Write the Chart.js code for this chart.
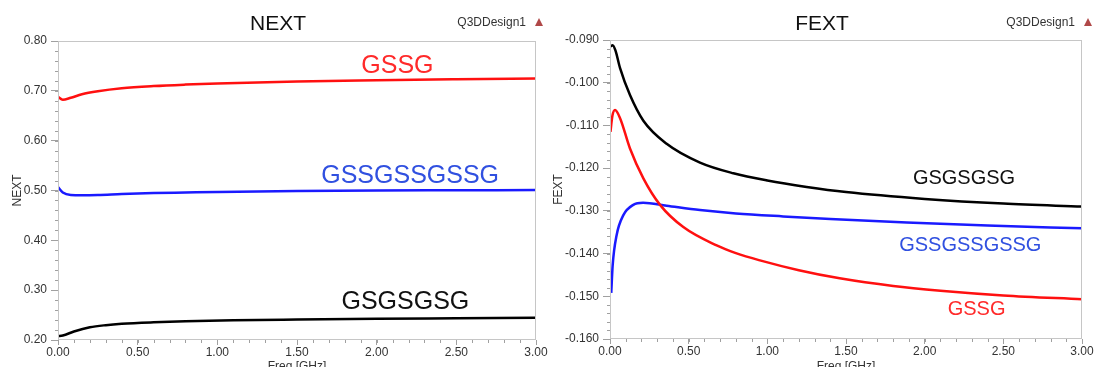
<!DOCTYPE html>
<html>
<head>
<meta charset="utf-8">
<script src="https://cdn.jsdelivr.net/npm/chart.js@4/dist/chart.umd.min.js"></script>
<style>
  html, body { margin: 0; padding: 0; background: #fff; overflow: hidden; }
  #wrap { position: relative; width: 1099px; height: 367px; }
  canvas { position: absolute; top: 0; }
</style>
</head>
<body>
<div id="wrap">
  <canvas id="next" width="549" height="367" style="left:0"></canvas>
  <canvas id="fext" width="550" height="367" style="left:549px"></canvas>
</div>
<script>
// ---- Near-end crosstalk vs frequency (GHz) ----
const nextFreq     = [0, 0.03, 0.08, 0.15, 0.25, 0.4, 0.6, 0.8, 1.0, 1.5, 2.0, 2.5, 3.0];
const nextGSSG     = [0.688, 0.682, 0.686, 0.693, 0.699, 0.705, 0.7095, 0.7125, 0.7148, 0.7188, 0.7212, 0.7232, 0.725];
const nextGSSGx3   = [0.507, 0.496, 0.491, 0.4905, 0.491, 0.493, 0.495, 0.496, 0.497, 0.499, 0.500, 0.5005, 0.501];
const nextFreqK    = [0, 0.03, 0.1, 0.2, 0.3, 0.4, 0.6, 0.8, 1.1, 1.5, 2.0, 2.5, 3.0];
const nextGSGSGSG  = [0.208, 0.209, 0.217, 0.2255, 0.2298, 0.2325, 0.2355, 0.2375, 0.2395, 0.241, 0.2425, 0.2435, 0.2445];

// ---- Far-end crosstalk vs frequency (GHz) ----
const fextFreqBlack = [0.005, 0.017, 0.035, 0.064, 0.127, 0.212, 0.36, 0.572, 0.784, 1.0, 1.25, 1.5, 2.0, 2.5, 3.0];
const fextGSGSGSG   = [-0.0915, -0.0912, -0.0925, -0.0966, -0.1029, -0.1089, -0.1143, -0.1187, -0.1212, -0.1229, -0.1244, -0.1256, -0.1272, -0.1283, -0.1290];
const fextFreqRed   = [0.003, 0.015, 0.032, 0.064, 0.127, 0.212, 0.318, 0.466, 0.678, 0.8, 0.953, 1.2, 1.46, 1.8, 2.1, 2.5, 3.0];
const fextGSSG      = [-0.1115, -0.1078, -0.1064, -0.1083, -0.1154, -0.1224, -0.1286, -0.1338, -0.1381, -0.1399, -0.1416, -0.1439, -0.1458, -0.1476, -0.1487, -0.1498, -0.1507];
const fextFreqBlue  = [0.008, 0.017, 0.042, 0.085, 0.148, 0.21, 0.36, 0.572, 0.8, 1.1, 1.4, 1.886, 2.4, 3.0];
const fextGSSGx3    = [-0.1492, -0.1427, -0.1357, -0.1310, -0.1286, -0.1281, -0.1288, -0.1298, -0.1306, -0.1313, -0.1319, -0.1327, -0.1334, -0.1341];

// Axis tick values
const freqTicks = [0, 0.5, 1.0, 1.5, 2.0, 2.5, 3.0];
const nextTicks = [0.2, 0.3, 0.4, 0.5, 0.6, 0.7, 0.8];
const fextTicks = [-0.16, -0.15, -0.14, -0.13, -0.12, -0.11, -0.10, -0.09];

const FONT = '"Liberation Sans", Arial, sans-serif';
Chart.defaults.font.family = FONT;
Chart.defaults.color = '#333';

const pairs = (xs, ys) => xs.map((x, i) => ({ x, y: ys[i] }));

// Frame, minor ticks, title, design tag and in-plot curve names
const decor = {
  id: 'decor',
  afterDraw(chart, args, o) {
    const { ctx, chartArea: a, scales: { x, y } } = chart;
    ctx.save();
    ctx.strokeStyle = '#a0a0a0';
    ctx.lineWidth = 1;
    ctx.beginPath();
    const nx = Math.round((x.max - x.min) / o.xMinor);
    for (let i = 0; i <= nx; i++) {
      const px = Math.round(x.getPixelForValue(x.min + i * o.xMinor)) + 0.5;
      ctx.moveTo(px, a.bottom); ctx.lineTo(px, a.bottom + 3);
    }
    const ny = Math.round((y.max - y.min) / o.yMinor);
    for (let i = 0; i <= ny; i++) {
      const py = Math.round(y.getPixelForValue(y.min + i * o.yMinor)) + 0.5;
      ctx.moveTo(a.left, py); ctx.lineTo(a.left - 3, py);
    }
    ctx.stroke();

    ctx.strokeStyle = '#c6c6c6';
    ctx.strokeRect(a.left + 0.5, a.top + 0.5, a.right - a.left - 1, a.bottom - a.top - 1);

    ctx.textAlign = 'center';
    ctx.textBaseline = 'middle';
    ctx.fillStyle = '#111';
    ctx.font = '21px ' + FONT;
    ctx.fillText(o.title, o.titleX, 24);

    ctx.textAlign = 'right';
    ctx.fillStyle = '#333';
    ctx.font = '12px ' + FONT;
    ctx.fillText('Q3DDesign1', o.tagX, 23);
    ctx.fillStyle = '#b04848';
    ctx.beginPath();
    ctx.moveTo(o.tagX + 13, 18);
    ctx.lineTo(o.tagX + 17, 26);
    ctx.lineTo(o.tagX + 9, 26);
    ctx.closePath();
    ctx.fill();

    ctx.textAlign = 'center';
    for (const l of o.labels) {
      ctx.font = l.size + 'px ' + FONT;
      ctx.fillStyle = l.color;
      ctx.fillText(l.text, x.getPixelForValue(l.f), y.getPixelForValue(l.v));
    }
    ctx.restore();
  }
};

function line(data, color) {
  return {
    data, borderColor: color, borderWidth: 2.5, pointRadius: 0,
    fill: false, cubicInterpolationMode: 'monotone'
  };
}

function scales(cfg) {
  return {
    x: {
      type: 'linear', min: 0, max: 3,
      border: { display: false },
      grid: { drawOnChartArea: false, tickLength: 5, color: '#a0a0a0' },
      afterBuildTicks: s => { s.ticks = freqTicks.map(v => ({ value: v })); },
      ticks: { padding: 0, color: '#333', font: { size: 12 }, maxRotation: 0, autoSkip: false,
               callback: v => Number(v).toFixed(2) },
      title: { display: true, text: 'Freq [GHz]', padding: { top: 0, bottom: -7 }, color: '#333', font: { size: 12 } },
      afterFit: s => { s.height = cfg.xH; }
    },
    y: {
      type: 'linear', min: cfg.yMin, max: cfg.yMax,
      border: { display: false },
      grid: { drawOnChartArea: false, tickLength: 7, color: '#a0a0a0' },
      afterBuildTicks: s => { s.ticks = cfg.yTicks.map(v => ({ value: v })); },
      ticks: { padding: 4, color: '#333', font: { size: 12 }, autoSkip: false,
               callback: v => Number(v).toFixed(cfg.dec) },
      title: { display: true, text: cfg.yTitle, padding: cfg.yTitlePad, color: '#333', font: { size: 12 } },
      afterFit: s => { s.width = cfg.yW; }
    }
  };
}

new Chart(document.getElementById('next'), {
  type: 'line',
  data: {
    datasets: [
      line(pairs(nextFreq, nextGSSG), '#ff1010'),
      line(pairs(nextFreq, nextGSSGx3), '#1a1aff'),
      line(pairs(nextFreqK, nextGSGSGSG), '#000000')
    ]
  },
  options: {
    responsive: false, animation: false, devicePixelRatio: 1,
    layout: { padding: { left: 0, right: 13, top: 41, bottom: 0 } },
    plugins: {
      legend: { display: false }, tooltip: { enabled: false },
      decor: {
        title: 'NEXT', titleX: 278, tagX: 526, xMinor: 0.1, yMinor: 0.02,
        labels: [
          { text: 'GSSG', f: 2.13, v: 0.750, color: '#ff2a2a', size: 25 },
          { text: 'GSSGSSGSSG', f: 2.21, v: 0.529, color: '#3050e0', size: 25 },
          { text: 'GSGSGSG', f: 2.18, v: 0.276, color: '#111', size: 25 }
        ]
      }
    },
    scales: scales({ yMin: 0.2, yMax: 0.8, yTicks: nextTicks, dec: 2, yTitle: 'NEXT',
                     yTitlePad: 10, yW: 58, xH: 27 })
  },
  plugins: [decor]
});

new Chart(document.getElementById('fext'), {
  type: 'line',
  data: {
    datasets: [
      line(pairs(fextFreqRed, fextGSSG), '#ff1010'),
      line(pairs(fextFreqBlue, fextGSSGx3), '#1a1aff'),
      line(pairs(fextFreqBlack, fextGSGSGSG), '#000000')
    ]
  },
  options: {
    responsive: false, animation: false, devicePixelRatio: 1,
    layout: { padding: { left: 0, right: 17, top: 40, bottom: 0 } },
    plugins: {
      legend: { display: false }, tooltip: { enabled: false },
      decor: {
        title: 'FEXT', titleX: 273, tagX: 526, xMinor: 0.1, yMinor: 0.002,
        labels: [
          { text: 'GSGSGSG', f: 2.25, v: -0.1225, color: '#111', size: 20 },
          { text: 'GSSGSSGSSG', f: 2.29, v: -0.1381, color: '#3050e0', size: 20 },
          { text: 'GSSG', f: 2.33, v: -0.1530, color: '#ff2a2a', size: 20 }
        ]
      }
    },
    scales: scales({ yMin: -0.16, yMax: -0.09, yTicks: fextTicks, dec: 3, yTitle: 'FEXT',
                     yTitlePad: 2, yW: 61, xH: 28 })
  },
  plugins: [decor]
});
</script>
</body>
</html>
